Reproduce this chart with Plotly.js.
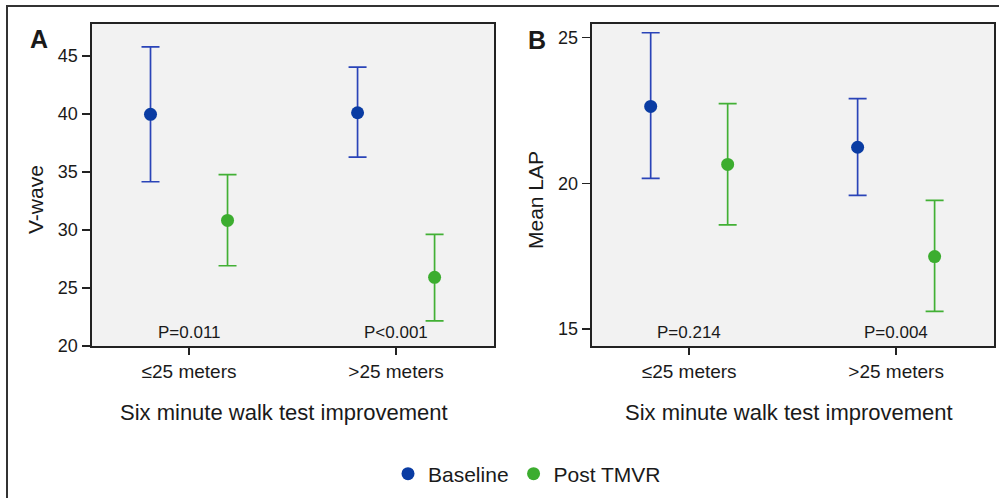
<!DOCTYPE html>
<html>
<head>
<meta charset="utf-8">
<script src="https://cdn.plot.ly/plotly-3.0.1.min.js"></script>
<style>
  html, body { margin: 0; padding: 0; background: #ffffff; }
  #chart { width: 999px; height: 498px; }
</style>
</head>
<body>
<div id="chart"></div>
<script>
// ---- Data ----
const categories = ['≤25 meters', '>25 meters'];
const seriesNames = ['Baseline', 'Post TMVR'];

// Panel A: V-wave (mean and 95% CI)
const vwaveBaseline     = [39.97, 40.11];
const vwaveBaselineLow  = [34.16, 36.29];
const vwaveBaselineHigh = [45.78, 44.05];
const vwavePost         = [30.83, 25.92];
const vwavePostLow      = [26.92, 22.16];
const vwavePostHigh     = [34.77, 29.63];
const vwavePValues      = ['P=0.011', 'P<0.001'];

// Panel B: Mean LAP (mean and 95% CI)
const lapBaseline     = [22.64, 21.24];
const lapBaselineLow  = [20.17, 19.59];
const lapBaselineHigh = [25.17, 22.91];
const lapPost         = [20.65, 17.49];
const lapPostLow      = [18.58, 15.61];
const lapPostHigh     = [22.74, 19.42];
const lapPValues      = ['P=0.214', 'P=0.004'];

const yTicksA = [20, 25, 30, 35, 40, 45];
const yTicksB = [15, 20, 25];

// ---- Styling / layout helpers ----
const W = 999, H = 498;
const px = v => v / W;
const py = v => 1 - v / H;
const FONT = 'Liberation Sans, Arial, sans-serif';
const TEXT = '#1a1a1a';
const BLUE_MARK = '#0a3ca3', BLUE_ERR = '#2a44b8';
const GREEN_MARK = '#3cad2f', GREEN_ERR = '#42b035';
const OFFSET = 0.186;
const catPos = categories.map((c, i) => i + 1);

function trace(name, mean, low, high, xa, ya, off, mcol, ecol, showlegend) {
  return {
    type: 'scatter', mode: 'markers', name: name,
    x: catPos.map(p => p + off),
    y: mean,
    xaxis: xa, yaxis: ya,
    showlegend: showlegend,
    legendgroup: name,
    marker: { color: mcol, size: 13, line: { width: 0 } },
    error_y: {
      type: 'data', symmetric: false,
      array: high.map((h, i) => h - mean[i]),
      arrayminus: low.map((l, i) => mean[i] - l),
      color: ecol, thickness: 1.7, width: 9
    },
    hoverinfo: 'x+y'
  };
}

const data = [
  trace(seriesNames[0], vwaveBaseline, vwaveBaselineLow, vwaveBaselineHigh, 'x', 'y', -OFFSET, BLUE_MARK, BLUE_ERR, true),
  trace(seriesNames[1], vwavePost, vwavePostLow, vwavePostHigh, 'x', 'y', OFFSET, GREEN_MARK, GREEN_ERR, true),
  trace(seriesNames[0], lapBaseline, lapBaselineLow, lapBaselineHigh, 'x2', 'y2', -OFFSET, BLUE_MARK, BLUE_ERR, false),
  trace(seriesNames[1], lapPost, lapPostLow, lapPostHigh, 'x2', 'y2', OFFSET, GREEN_MARK, GREEN_ERR, false)
];

const xCommon = {
  tickmode: 'array', tickvals: catPos, ticktext: categories,
  range: [0.529, 2.473],
  showgrid: false, zeroline: false,
  showline: true, mirror: true, linecolor: '#222', linewidth: 2,
  ticks: 'outside', ticklen: 7, tickwidth: 2, tickcolor: '#222',
  tickfont: { family: FONT, size: 19, color: TEXT },
  fixedrange: true
};
const yCommon = {
  showgrid: false, zeroline: false,
  showline: true, mirror: true, linecolor: '#222', linewidth: 2,
  ticks: 'outside', ticklen: 8, tickwidth: 1.5, tickcolor: '#222',
  tickfont: { family: FONT, size: 18, color: TEXT },
  tickmode: 'array',
  fixedrange: true
};

const plotTop = 24, plotBottom = 346;
const annotations = [];
function ann(text, x, y, size, opts) {
  annotations.push(Object.assign({
    text: text, xref: 'paper', yref: 'paper', x: px(x), y: py(y),
    xanchor: 'center', yanchor: 'middle', showarrow: false,
    font: { family: FONT, size: size, color: TEXT }
  }, opts || {}));
}
// p-values
vwavePValues.forEach((t, i) => annotations.push({
  text: t, xref: 'x', yref: 'y domain', x: catPos[i], y: 13 / (plotBottom - plotTop),
  xanchor: 'center', yanchor: 'middle', showarrow: false,
  font: { family: FONT, size: 17, color: TEXT }
}));
lapPValues.forEach((t, i) => annotations.push({
  text: t, xref: 'x2', yref: 'y2 domain', x: catPos[i], y: 13 / (plotBottom - plotTop),
  xanchor: 'center', yanchor: 'middle', showarrow: false,
  font: { family: FONT, size: 17, color: TEXT }
}));
// axis titles
ann('V-wave', 35, 200, 21, { textangle: -90 });
ann('Mean LAP', 535, 200, 21, { textangle: -90 });
ann('Six minute walk test improvement', 284, 412, 22);
ann('Six minute walk test improvement', 789, 412, 22);
// panel letters
ann('<b>A</b>', 39, 39, 25);
ann('<b>B</b>', 537, 40, 25);

const layout = {
  width: W, height: H,
  margin: { l: 0, r: 0, t: 0, b: 0, pad: 0 },
  paper_bgcolor: '#ffffff',
  plot_bgcolor: '#f2f2f2',
  font: { family: FONT, color: TEXT },
  showlegend: true,
  legend: {
    orientation: 'h', x: px(527), y: py(474), xanchor: 'center', yanchor: 'middle',
    font: { family: FONT, size: 21, color: TEXT },
    bgcolor: 'rgba(0,0,0,0)', itemwidth: 30, tracegroupgap: 0
  },
  xaxis: Object.assign({}, xCommon, { domain: [px(91.5), px(494)], anchor: 'y' }),
  yaxis: Object.assign({}, yCommon, { domain: [py(plotBottom), py(plotTop)], range: [20, 47.76], tickvals: yTicksA, anchor: 'x' }),
  xaxis2: Object.assign({}, xCommon, { domain: [px(591.7), px(994)], anchor: 'y2' }),
  yaxis2: Object.assign({}, yCommon, { domain: [py(plotBottom), py(plotTop)], range: [14.42, 25.47], tickvals: yTicksB, anchor: 'x2' }),
  annotations: annotations,
  shapes: [{
    type: 'rect', xref: 'paper', yref: 'paper',
    x0: px(7), x1: 1.02, y0: -0.02, y1: py(6),
    line: { color: '#333', width: 2 }, fillcolor: 'rgba(0,0,0,0)', layer: 'below'
  }]
};

Plotly.newPlot('chart', data, layout, { displayModeBar: false, staticPlot: true });
</script>
</body>
</html>
